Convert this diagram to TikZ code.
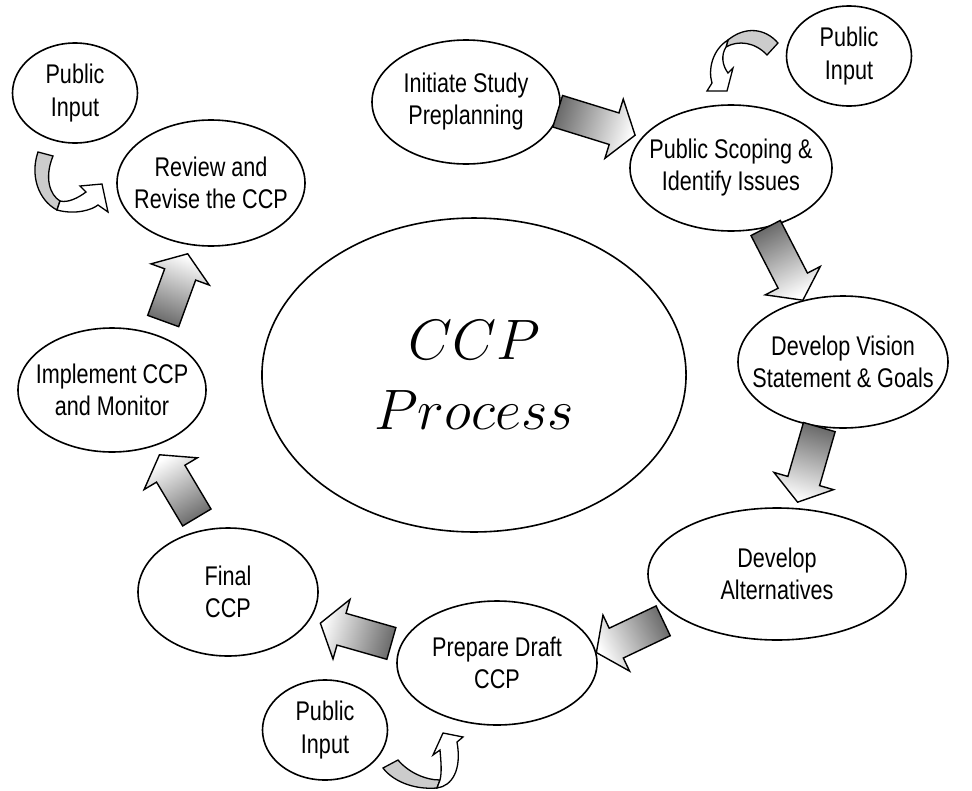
\documentclass[tikz,border=0pt]{standalone}
\usepackage{fontspec}
\setmainfont[FakeStretch=0.8]{Liberation Sans}
\usetikzlibrary{shapes.geometric,calc}

\tikzset{
  stage/.style 2 args={ellipse, draw, line width=1.6pt, inner xsep=-20pt, inner ysep=0pt,
    minimum width=#1, minimum height=#2, align=center, font=\fontsize{27}{32}\selectfont},
  input/.style={stage={125pt}{100pt}, font=\fontsize{27}{33}\selectfont},
  hub/.style={stage={185.2pt}{137.1pt}, scale=2.29, font=\fontsize{24.88}{30.57}\selectfont},
  flow/.style={draw, line width=1.4pt, top color=black!58, bottom color=white, shading angle=#1},
  curlback/.style={draw, line width=1.3pt, fill=black!20},
  curlfront/.style={draw, line width=1.3pt, fill=white},
}

% shaded block arrow between two ovals (anchors, gap at tail, gap at tip)
\newcommand\flowarrow[4]{%
  \coordinate (tail) at ($(#1)!#3!(#2)$);
  \coordinate (tip) at ($(#2)!#4!(#1)$);
  \pgfmathanglebetweenpoints{\pgfpointanchor{tail}{center}}{\pgfpointanchor{tip}{center}}%
  \pgfmathsetmacro\flowang{\pgfmathresult+90}%
  \coordinate (neck) at ($(tip)!22pt!(tail)$);
  \shade[flow=\flowang] ($(tail)!16.5pt!90:(tip)$) -- ($(neck)!16.5pt!-90:(tail)$)
    -- ($(neck)!31pt!-90:(tail)$) -- (tip) -- ($(neck)!31pt!90:(tail)$)
    -- ($(neck)!16.5pt!90:(tail)$) -- ($(tail)!16.5pt!-90:(tip)$) -- cycle;
}

\begin{document}
\begin{tikzpicture}[x=1pt,y=-1pt]
\useasboundingbox (0,0) rectangle (972,790);

% the cycle
\node[stage={188pt}{124pt}] (init) at (466,102) {Initiate Study\\Preplanning};
\node[stage={202pt}{126pt}] (scope) at (731,168) {Public Scoping \&\\Identify Issues};
\node[stage={210pt}{132pt}] (vision) at (843,362) {Develop Vision\\Statement \& Goals};
\node[stage={258pt}{132pt}] (alts) at (777,574) {Develop\\Alternatives};
\node[stage={200pt}{124pt}] (draft) at (497,663) {Prepare Draft\\CCP};
\node[stage={180pt}{128pt}] (final) at (228,592) {Final\\CCP};
\node[stage={188pt}{124pt}] (impl) at (112,390) {Implement CCP\\and Monitor};
\node[stage={188pt}{126pt}] (review) at (211,183) {Review and\\Revise the CCP};
\node[hub] (ccp) at (474,375) {$CCP$\\$Process$};

% public input ovals
\node[input] (pubtop) at (849,56) {Public\\Input};
\node[input] (pubbot) at (325,730) {Public\\Input};
\node[input] (publeft) at (75,93) {Public\\Input};

\flowarrow{init.354}{scope.161}{-2pt}{7pt}
\flowarrow{scope.300}{vision.123}{0pt}{0pt}
\flowarrow{vision.250}{alts.74}{0pt}{6pt}
\flowarrow{alts.202}{draft.6}{13pt}{0pt}
\flowarrow{draft.170}{final.341}{9pt}{11pt}
\flowarrow{final.111}{impl.307}{14pt}{10pt}
\flowarrow{impl.50}{review.252}{15pt}{9pt}

% curled feedback arrows
\filldraw[curlback] (778,43) .. controls (765,28) and (745,26) .. (728,40)
  -- (726,47) .. controls (738,40) and (755,42) .. (767,55) -- cycle;
\filldraw[curlfront] (728,40) .. controls (712,50) and (708,70) .. (712,83)
  -- (707,91) -- (727,91) -- (733,68) -- (728,73) .. controls (722,65) and (721,55) .. (726,47) -- cycle;

\filldraw[curlback] (38,152) .. controls (30,175) and (38,200) .. (57,210)
  -- (60,201) .. controls (50,195) and (44,178) .. (53,156) -- cycle;
\filldraw[curlfront] (57,210) .. controls (75,215) and (92,210) .. (98,205)
  -- (108,212) -- (102,184) -- (80,186) -- (86,192) .. controls (78,198) and (68,203) .. (60,201) -- cycle;

\filldraw[curlback] (383,768) .. controls (392,780) and (412,790) .. (437,788)
  -- (440,780) .. controls (425,780) and (408,772) .. (398,760) -- cycle;
\filldraw[curlfront] (437,788) .. controls (452,786) and (462,770) .. (457,742)
  -- (463,737) -- (443,733) -- (433,755) -- (440,750) .. controls (441,762) and (442,772) .. (440,780) -- cycle;
\end{tikzpicture}
\end{document}
